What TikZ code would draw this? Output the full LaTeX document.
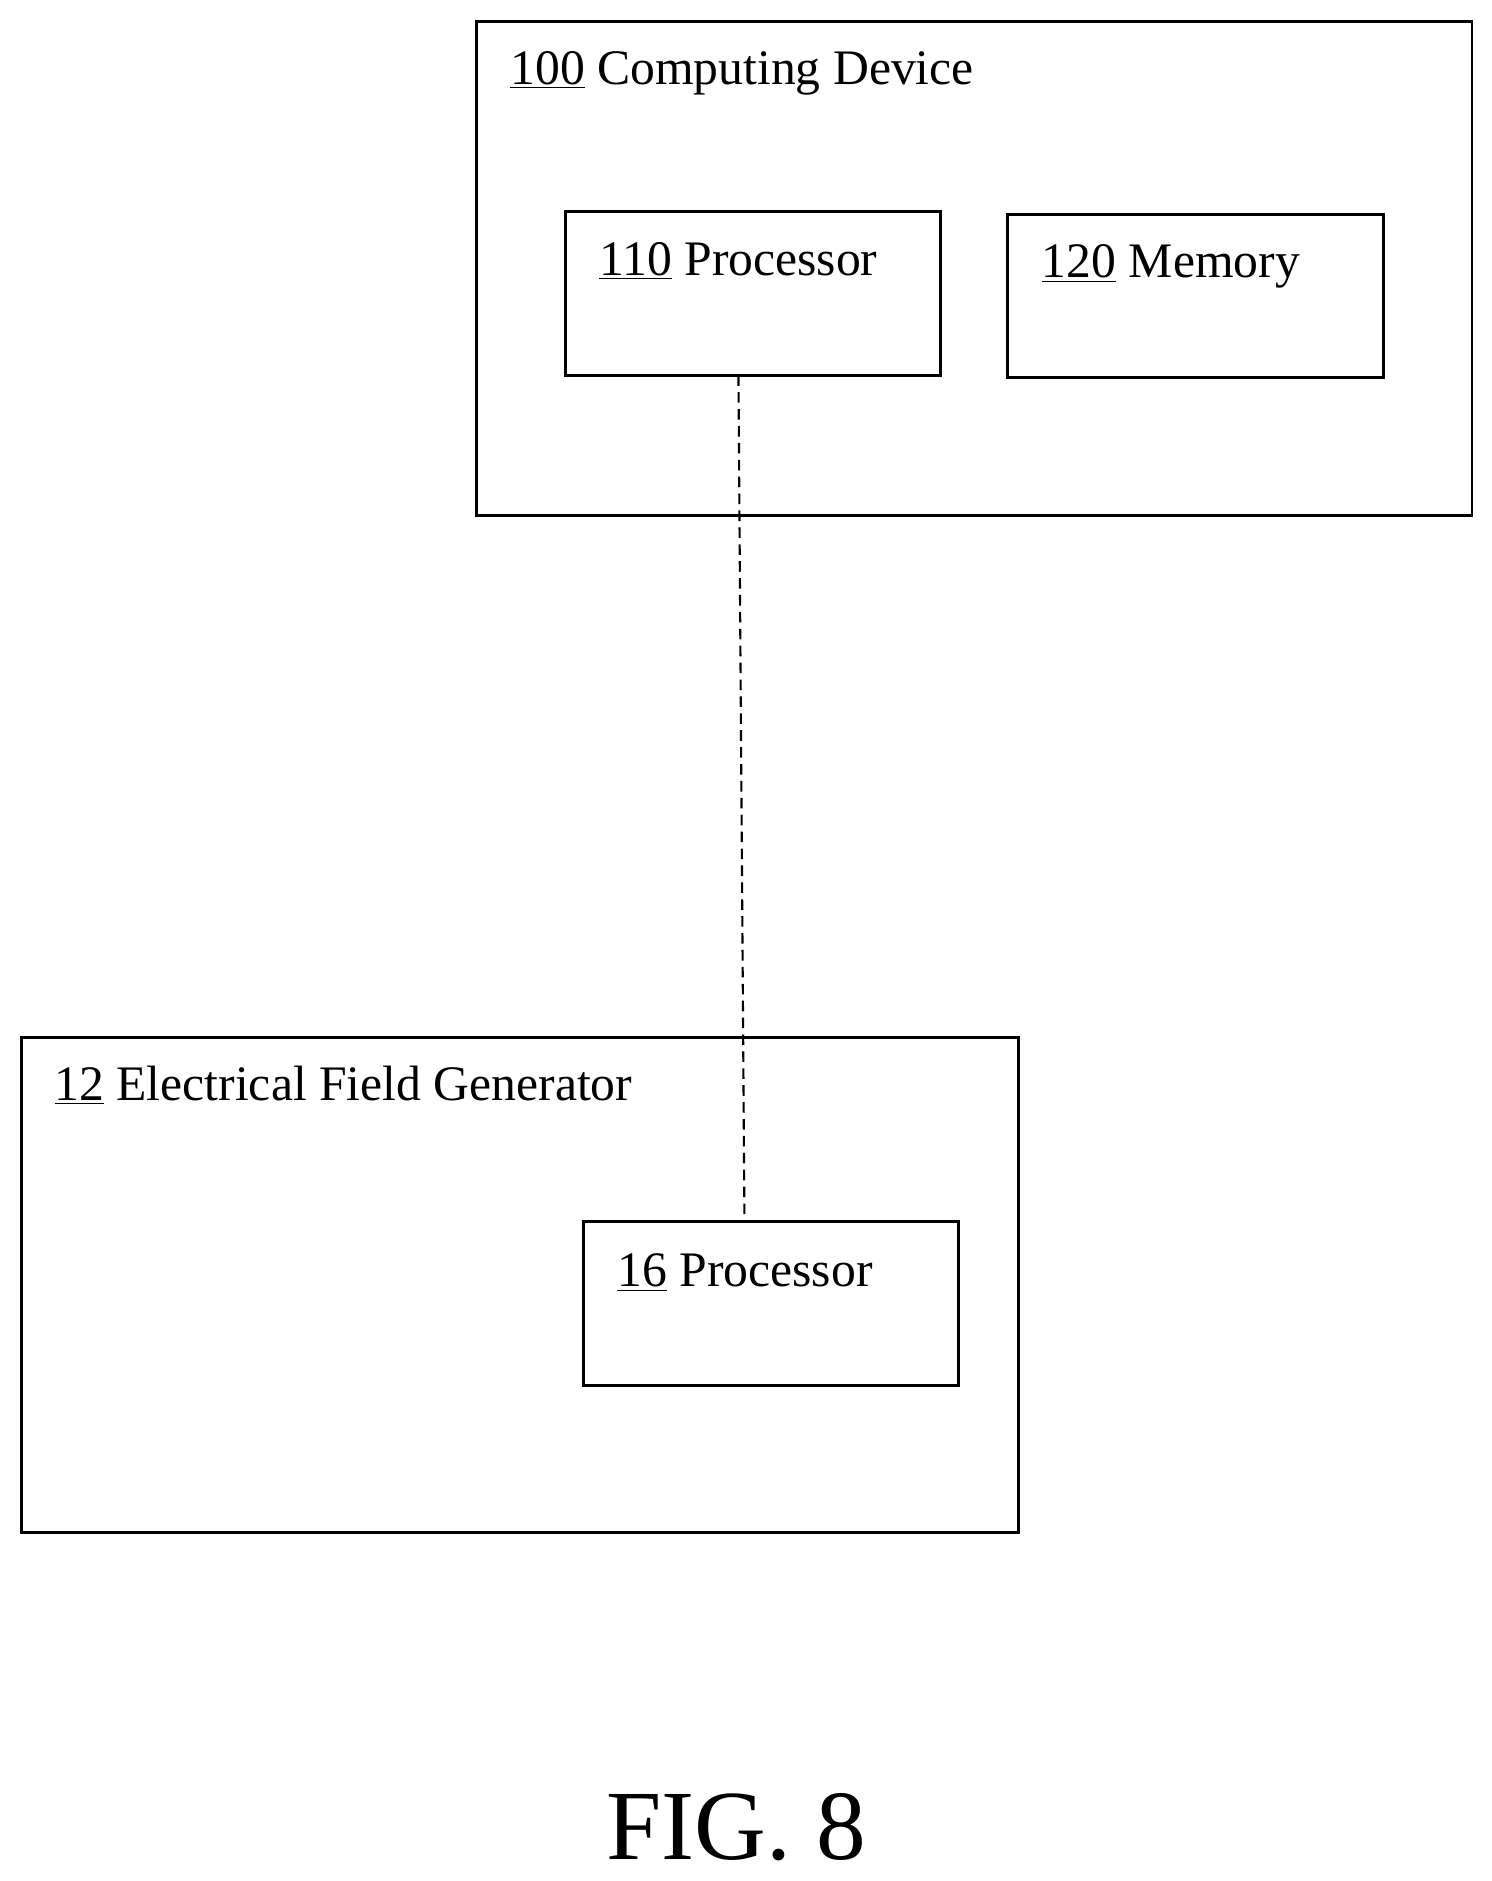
\documentclass[tikz,border=0pt]{standalone}
\usepackage{fontspec}
\setmainfont{Liberation Serif}
\begin{document}
\begin{tikzpicture}
	[x=0.02cm,y=-0.02cm,
	mybox/.style={draw,line width=1.4pt,rectangle,inner sep=0pt},
	mylabel/.style={anchor=base west,inner sep=0pt,font=\fontsize{23.5}{28}\selectfont}]
	\useasboundingbox (0,0) rectangle (1240,1564);
	% outer boxes
	\node[mybox,minimum width=16.56cm,minimum height=8.22cm] (comp) at (810,223.5) {};
	\node[mybox,minimum width=16.58cm,minimum height=8.22cm] (efg) at (432.5,1068.5) {};
	% inner boxes
	\node[mybox,minimum width=6.24cm,minimum height=2.72cm] (proc1) at (626,244) {};
	\node[mybox,minimum width=6.24cm,minimum height=2.72cm] (mem) at (994,246) {};
	\node[mybox,minimum width=6.24cm,minimum height=2.72cm] (proc2) at (641,1084) {};
	% labels
	\node[mylabel] (lcomp) at (424,70) {\underline{100} Computing Device};
	\node[mylabel] (lproc1) at (498,229) {\underline{110} Processor};
	\node[mylabel] (lmem) at (866,231) {\underline{120} Memory};
	\node[mylabel] (lefg) at (45,915) {\underline{12} Electrical Field Generator};
	\node[mylabel] (lproc2) at (513,1070) {\underline{16} Processor};
	% link
	\coordinate (top) at (614,312);
	\coordinate (bot) at (619,1016);
	\draw[dashed,line width=1pt,dash pattern=on 5pt off 3pt] (top) -- (bot);
	\node[anchor=base,inner sep=0pt,font=\fontsize{47}{52}\selectfont] (fig) at (612,1546) {FIG. 8};
\end{tikzpicture}
\end{document}
